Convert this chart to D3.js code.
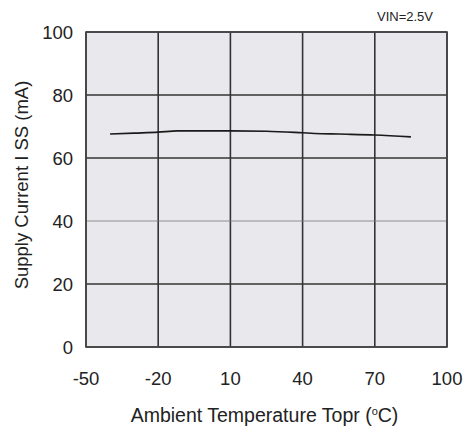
<!DOCTYPE html>
<html>
<head>
<meta charset="utf-8">
<script src="https://cdn.jsdelivr.net/npm/d3@7"></script>
<style>
  body { margin: 0; background: #fff; }
  text { font-family: "Liberation Sans", Arial, sans-serif; fill: #222; }
</style>
</head>
<body>
<div id="wrapper"></div>
<script>
// data
const temps = [-40, -30, -20, -12, 0, 10, 25, 40, 45, 55, 70, 85];
const current = [67.6, 67.9, 68.2, 68.6, 68.6, 68.6, 68.5, 68.0, 67.8, 67.6, 67.3, 66.7];
const xTicks = [-50, -20, 10, 40, 70, 100];
const yTicks = [0, 20, 40, 60, 80, 100];

function drawChart() {
  // 1. dimensions
  let dimensions = {
    width: 473,
    height: 432,
    margin: { top: 32, right: 26, bottom: 85, left: 86 },
  };
  dimensions.boundedWidth =
    dimensions.width - dimensions.margin.left - dimensions.margin.right;
  dimensions.boundedHeight =
    dimensions.height - dimensions.margin.top - dimensions.margin.bottom;

  // 2. scales
  const xScale = d3.scaleLinear().domain([-50, 100]).range([0, dimensions.boundedWidth]);
  const yScale = d3.scaleLinear().domain([0, 100]).range([dimensions.boundedHeight, 0]);

  // 3. canvas
  const wrapper = d3
    .select("#wrapper")
    .append("svg")
    .attr("width", dimensions.width)
    .attr("height", dimensions.height);

  const bounds = wrapper
    .append("g")
    .attr("transform", `translate(${dimensions.margin.left},${dimensions.margin.top})`);

  bounds
    .append("rect")
    .attr("width", dimensions.boundedWidth)
    .attr("height", dimensions.boundedHeight)
    .attr("fill", "#e9e9ed");

  // grid
  bounds
    .selectAll(".vgrid")
    .data(xTicks)
    .join("line")
    .attr("x1", (d) => xScale(d))
    .attr("x2", (d) => xScale(d))
    .attr("y1", 0)
    .attr("y2", dimensions.boundedHeight)
    .attr("stroke", "#333")
    .attr("stroke-width", 1.6);

  bounds
    .selectAll(".hgrid")
    .data(yTicks)
    .join("line")
    .attr("x1", 0)
    .attr("x2", dimensions.boundedWidth)
    .attr("y1", (d) => yScale(d))
    .attr("y2", (d) => yScale(d))
    .attr("stroke", (d) => (d == 40 ? "#777" : "#333"))
    .attr("stroke-width", (d) => (d == 40 ? 0.8 : 1.6));

  bounds
    .append("rect")
    .attr("width", dimensions.boundedWidth)
    .attr("height", dimensions.boundedHeight)
    .attr("fill", "none")
    .attr("stroke", "#444")
    .attr("stroke-width", 1.6);

  // 4. data line
  const line = d3
    .line()
    .x((d, i) => xScale(temps[i]))
    .y((d) => yScale(d))
    .curve(d3.curveMonotoneX);

  bounds
    .append("path")
    .attr("d", line(current))
    .attr("fill", "none")
    .attr("stroke", "#1a1a1a")
    .attr("stroke-width", 1.6);

  // 5. ticks and labels
  bounds
    .selectAll(".xlab")
    .data(xTicks)
    .join("text")
    .attr("x", (d) => xScale(d))
    .attr("y", dimensions.boundedHeight + 38)
    .attr("text-anchor", "middle")
    .style("font-size", "18.5px")
    .text((d) => d);

  bounds
    .selectAll(".ylab")
    .data(yTicks)
    .join("text")
    .attr("x", -13)
    .attr("y", (d) => yScale(d) + 7)
    .attr("text-anchor", "end")
    .style("font-size", "18.5px")
    .text((d) => d);

  wrapper
    .append("text")
    .attr("x", dimensions.margin.left + dimensions.boundedWidth / 2 - 2)
    .attr("y", 422)
    .attr("text-anchor", "middle")
    .style("font-size", "19.5px")
    .html('Ambient Temperature Topr (<tspan dy="-7" style="font-size:11px">o</tspan><tspan dy="7">C)</tspan>');

  wrapper
    .append("text")
    .attr("transform", "translate(28,185) rotate(-90)")
    .attr("text-anchor", "middle")
    .style("font-size", "18.5px")
    .text("Supply Current I SS (mA)");

  wrapper
    .append("text")
    .attr("x", 433)
    .attr("y", 21)
    .attr("text-anchor", "end")
    .style("font-size", "13px")
    .text("VIN=2.5V");
}
drawChart();
</script>
</body>
</html>
